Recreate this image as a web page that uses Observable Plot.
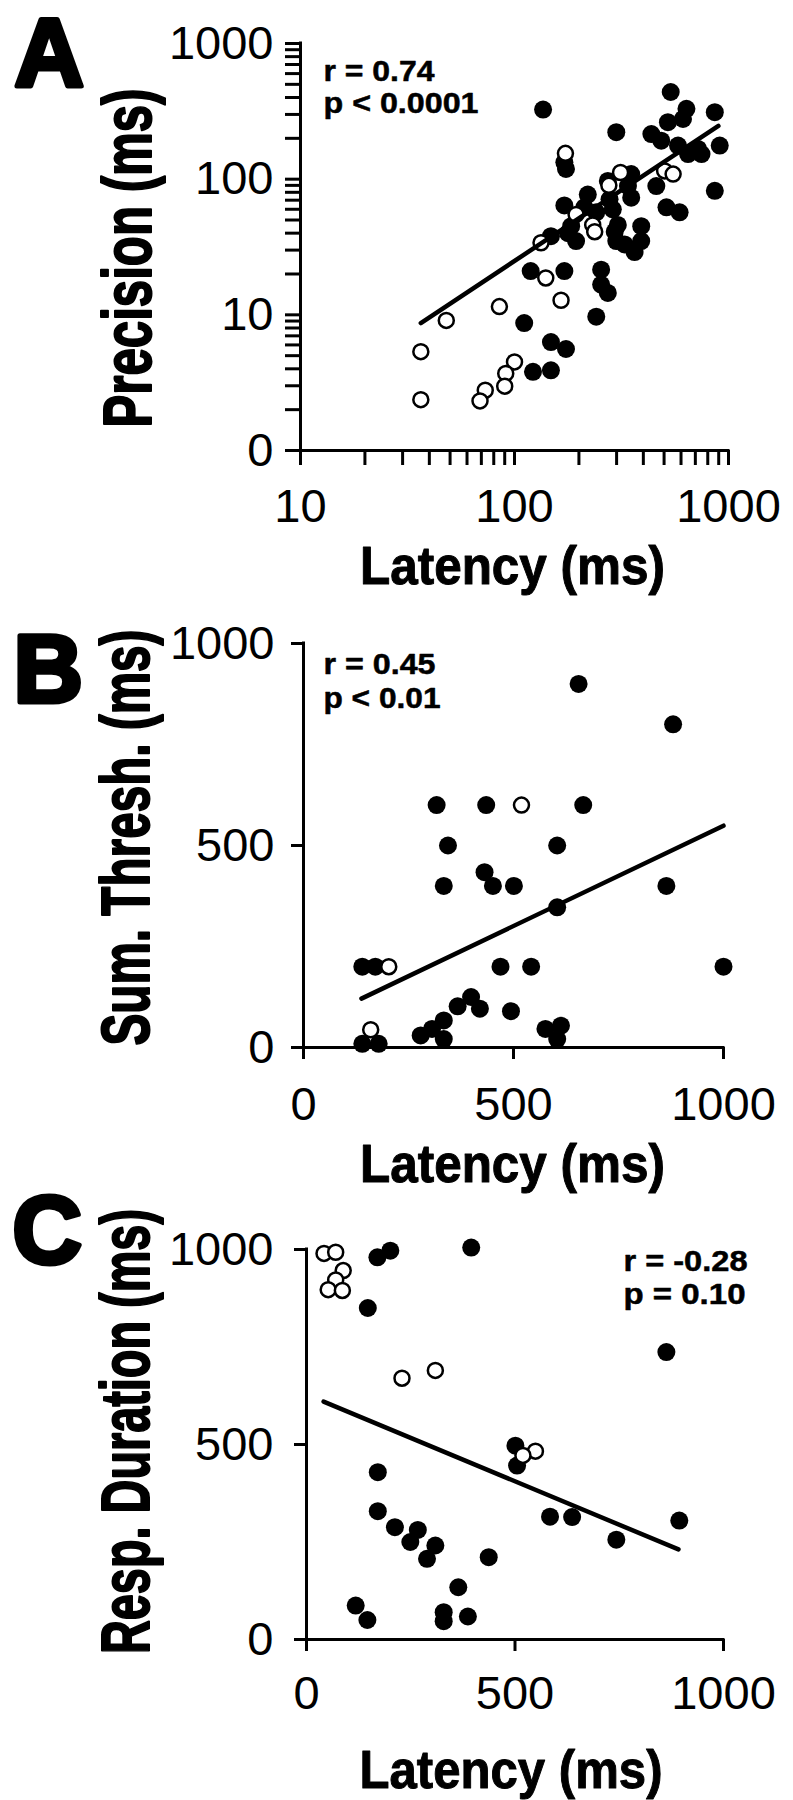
<!DOCTYPE html>
<html>
<head>
<meta charset="utf-8">
<script src="https://cdn.jsdelivr.net/npm/d3@7"></script>
<script src="https://cdn.jsdelivr.net/npm/@observablehq/plot@0.6"></script>
<style>
html, body { margin: 0; padding: 0; background: #fff; }
#fig { position: relative; width: 793px; height: 1800px; overflow: hidden; background: #fff; }
#fig svg { position: absolute; left: 0; overflow: visible; }
#fig svg g[aria-label$="tick"], #fig svg g[aria-label$="tick"] path { stroke-width: 3px; stroke: #000; }
</style>
</head>
<body>
<div id="fig"></div>
<script>
// ---------------- Panel A : Precision vs Latency (log–log) ----------------
const latencyA_filled = [537,136,636,863,613,521,299,436,485,581,910,647,748,863,513,591,174,171,
  351,460,339,273,220,278,351,171,212,241,288,304,184,178,194,391,391,294,299,327,364,148,119,171,254,254,273,241,111,148,174,122,148,721];
const precisionA_filled = [439,326,330,312,278,263,222,215,192,177,177,153,153,82,62,57,119,133,
  109,89,89,97,77,71,73,64,62,57,60,46,45,40,35,45,35,41,35,33,29,38,21,21,21.5,16.7,14.5,9.7,8.7,6.3,5.6,3.8,3.9,167];
const latencyA_open = [276,194,232,237,503,551,133,140,165,85,48,36.5,36.5,100,91,90,73,69,173,313];
const precisionA_open = [90,55,46,41,115,109,34,18.7,12.8,11.5,9.1,5.35,2.37,4.5,3.7,2.98,2.78,2.32,155,112];
const fitA_latency = [36.5, 897];
const fitA_precision = [8.7, 247];
const statsA = ["r = 0.74", "p < 0.0001"];
const xTicksA = [10,20,30,40,50,60,70,80,90,100,200,300,400,500,600,700,800,900,1000];
const xMajorA = [10,100,1000];
const xMajorLabelsA = ["10","100","1000"];
const yTicksA = [1,2,3,4,5,6,7,8,9,10,20,30,40,50,60,70,80,90,100,200,300,400,500,600,700,800,900,1000];
const yMajorA = [1,10,100,1000];
const yMajorLabelsA = ["0","10","100","1000"];

// ---------------- Panel B : Summation threshold vs Latency ----------------
const latencyB_filled = [655,880,317,435,666,344,604,334,431,451,501,864,604,140,171,469,542,1000,
  399,367,420,494,334,306,279,334,576,613,604,140,179];
const threshB_filled = [900,800,600,600,600,500,500,400,434,400,400,400,347,200,200,200,200,200,
  125,102,96,90,67,46,30,21,46,54,21,9,9];
const latencyB_open = [519,203,160];
const threshB_open = [600,200,44];
const fitB_latency = [138, 1000];
const fitB_thresh = [121, 549];
const statsB = ["r = 0.45", "p < 0.01"];

// ---------------- Panel C : Response duration vs Latency ----------------
const latencyC_filled = [170,201,395,147,863,501,505,171,171,212,267,249,309,289,437,584,637,743,894,364,118,146,329,329,387];
const durationC_filled = [980,997,1005,850,737,497,446,429,329,288,281,250,241,207,211,315,314,256,305,134,87,50,70,47,59];
const latencyC_open = [42,70,88,70,52,86,229,309,549,519];
const durationC_open = [990,993,946,922,897,895,670,690,483,472];
const fitC_latency = [41, 892];
const fitC_duration = [610, 231];
const statsC = ["r = -0.28", "p = 0.10"];

const linTicks = [0, 500, 1000];
const linTickLabels = ["0", "500", "1000"];

// ---------------- drawing ----------------
const zip = (xs, ys) => xs.map((x, i) => ({x, y: ys[i]}));
const fontFamily = "'Liberation Sans', Arial, Helvetica, sans-serif";

function labeler(majors, labels) {
  const m = new Map(majors.map((v, i) => [v, labels[i]]));
  return d => m.has(d) ? m.get(d) : "";
}

function panel(cfg) {
  const svg = Plot.plot({
    width: 793, height: cfg.height,
    marginLeft: cfg.ml, marginRight: cfg.mr, marginTop: cfg.mt, marginBottom: cfg.mb,
    x: {type: cfg.xType, domain: cfg.xDomain},
    y: {type: cfg.yType, domain: cfg.yDomain},
    style: {fontFamily, background: "transparent", color: "black", overflow: "visible"},
    marks: [
      Plot.ruleY([cfg.yDomain[0]], {stroke: "black", strokeWidth: 3, strokeLinecap: "square"}),
      Plot.ruleX([cfg.xDomain[0]], {stroke: "black", strokeWidth: 3, strokeLinecap: "square"}),
      Plot.axisX(cfg.xTicks, {tickSize: cfg.tick, tickPadding: cfg.xPad, tickFormat: cfg.xFmt,
        fontSize: 47, strokeWidth: 3, label: null}),
      Plot.axisY(cfg.yTicks, {tickSize: cfg.tick, tickPadding: cfg.yPad, tickFormat: cfg.yFmt,
        fontSize: 47, strokeWidth: 3, label: null}),
      Plot.dot(cfg.filled, {x: "x", y: "y", r: 9, fill: "black", stroke: "none"}),
      Plot.dot(cfg.open, {x: "x", y: "y", r: 7.5, fill: "white", stroke: "black", strokeWidth: 2.5}),
      Plot.line(cfg.fit, {x: "x", y: "y", stroke: "black", strokeWidth: 4.5}),
      Plot.text([cfg.letter], {text: d => d, frameAnchor: "top-left", textAnchor: "start", lineAnchor: "top",
        dx: cfg.letterDx, dy: cfg.letterDy, fontSize: 96, fontWeight: "bold", fill: "black",
        stroke: "black", strokeWidth: 5}),
      Plot.text([cfg.yTitle], {text: d => d, frameAnchor: "left", rotate: -90, textAnchor: "middle",
        lineAnchor: "bottom", dx: cfg.yTitleDx, dy: cfg.yTitleDy, fontSize: 68, fontWeight: "bold",
        fill: "black", stroke: "black", strokeWidth: 2, ariaDescription: "ytitle"}),
      Plot.text([cfg.xTitle], {text: d => d, frameAnchor: "bottom", textAnchor: "middle",
        lineAnchor: "bottom", dx: cfg.xTitleDx, dy: cfg.xTitleDy, fontSize: 54, fontWeight: "bold",
        fill: "black", stroke: "black", strokeWidth: 1, ariaDescription: "xtitle"}),
      Plot.text([cfg.stats[0]], {text: d => d, frameAnchor: "top-left", textAnchor: "start",
        lineAnchor: "bottom", dx: cfg.statDx, dy: cfg.statDy[0], fontSize: 29, fontWeight: "bold",
        fill: "black", stroke: "black", strokeWidth: 0.5, ariaDescription: "stat0"}),
      Plot.text([cfg.stats[1]], {text: d => d, frameAnchor: "top-left", textAnchor: "start",
        lineAnchor: "bottom", dx: cfg.statDx, dy: cfg.statDy[1], fontSize: 29, fontWeight: "bold",
        fill: "black", stroke: "black", strokeWidth: 0.5, ariaDescription: "stat1"})
    ]
  });
  for (const [key, len] of Object.entries(cfg.lengths)) {
    svg.querySelectorAll(`[aria-description="${key}"] text`).forEach(t => {
      t.setAttribute("textLength", len);
      t.setAttribute("lengthAdjust", "spacingAndGlyphs");
    });
  }
  svg.querySelectorAll('[aria-label$="tick"]').forEach(g => {
    g.setAttribute("stroke-width", 3);
    g.setAttribute("stroke", "black");
    g.querySelectorAll("path, line").forEach(p => { p.style.strokeWidth = "3px"; });
  });
  svg.style.top = cfg.top + "px";
  document.getElementById("fig").appendChild(svg);
}

panel({
  top: 0, height: 600, ml: 300, mr: 65, mt: 43, mb: 150,
  xType: "log", yType: "log", xDomain: [10, 1000], yDomain: [1, 1000],
  xTicks: xTicksA, yTicks: yTicksA, tick: 15, xPad: 23, yPad: 12,
  xFmt: labeler(xMajorA, xMajorLabelsA), yFmt: labeler(yMajorA, yMajorLabelsA),
  filled: zip(latencyA_filled, precisionA_filled), open: zip(latencyA_open, precisionA_open),
  fit: zip(fitA_latency, fitA_precision),
  letter: "A", letterDx: -286, letterDy: -26,
  yTitle: "Precision (ms)", yTitleDx: -150, yTitleDy: 11,
  xTitle: "Latency (ms)", xTitleDx: -2, xTitleDy: 133,
  stats: statsA, statDx: 23, statDy: [37, 69],
  lengths: {ytitle: 339, xtitle: 305, stat0: 111, stat1: 155}
});

panel({
  top: 590, height: 600, ml: 303, mr: 70, mt: 53, mb: 143,
  xType: "linear", yType: "linear", xDomain: [0, 1000], yDomain: [0, 1000],
  xTicks: linTicks, yTicks: linTicks, tick: 12, xPad: 27, yPad: 17,
  xFmt: labeler(linTicks, linTickLabels), yFmt: labeler(linTicks, linTickLabels),
  filled: zip(latencyB_filled, threshB_filled), open: zip(latencyB_open, threshB_open),
  fit: zip(fitB_latency, fitB_thresh),
  letter: "B", letterDx: -290, letterDy: -10,
  yTitle: "Sum. Thresh. (ms)", yTitleDx: -155, yTitleDy: -8,
  xTitle: "Latency (ms)", xTitleDx: -1, xTitleDy: 134,
  stats: statsB, statDx: 20, statDy: [30, 64],
  lengths: {ytitle: 416, xtitle: 305, stat0: 112, stat1: 117}
});

panel({
  top: 1180, height: 620, ml: 306, mr: 70, mt: 69, mb: 161,
  xType: "linear", yType: "linear", xDomain: [0, 1000], yDomain: [0, 1000],
  xTicks: linTicks, yTicks: linTicks, tick: 12, xPad: 24, yPad: 21,
  xFmt: labeler(linTicks, linTickLabels), yFmt: labeler(linTicks, linTickLabels),
  filled: zip(latencyC_filled, durationC_filled), open: zip(latencyC_open, durationC_open),
  fit: zip(fitC_latency, fitC_duration),
  letter: "C", letterDx: -294, letterDy: -55,
  yTitle: "Resp. Duration (ms)", yTitleDx: -158, yTitleDy: -13,
  xTitle: "Latency (ms)", xTitleDx: -4, xTitleDy: 148,
  stats: statsC, statDx: 317, statDy: [21, 54],
  lengths: {ytitle: 445, xtitle: 303, stat0: 124, stat1: 122}
});
</script>
</body>
</html>
